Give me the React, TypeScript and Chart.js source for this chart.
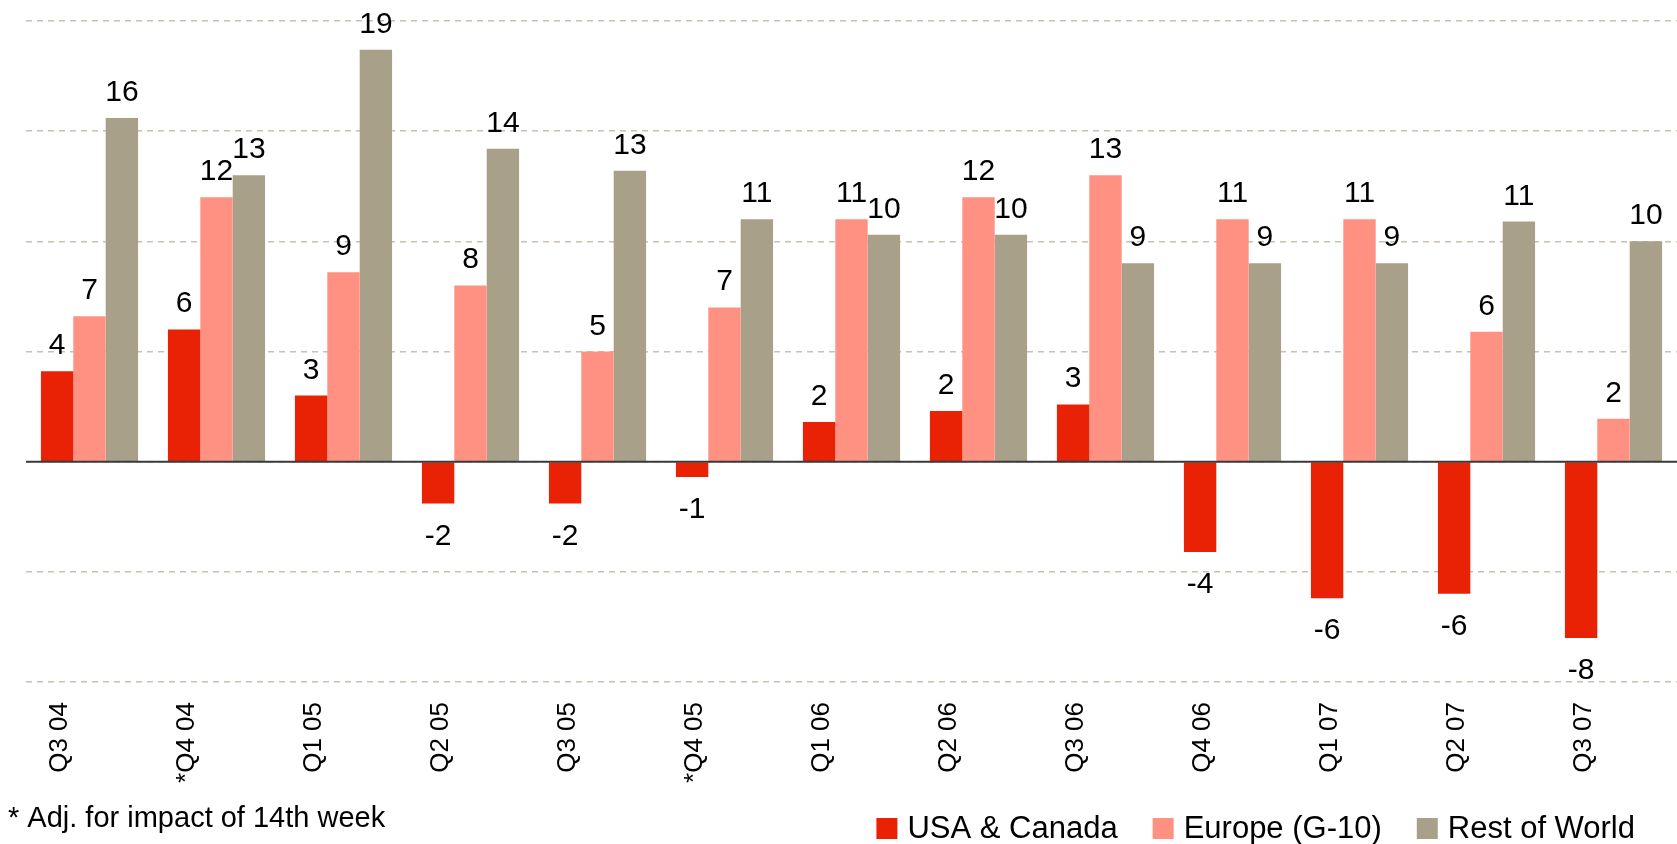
import React, { useEffect, useRef } from "react";
import { Chart, registerables } from "chart.js";

Chart.register(...registerables);

const categories = ["Q3 04", "*Q4 04", "Q1 05", "Q2 05", "Q3 05", "*Q4 05", "Q1 06", "Q2 06", "Q3 06", "Q4 06", "Q1 07", "Q2 07", "Q3 07"];
const usaCanada = [4.1, 6.0, 3.0, -1.9, -1.9, -0.7, 1.8, 2.3, 2.6, -4.1, -6.2, -6.0, -8.0];
const europeG10 = [6.6, 12.0, 8.6, 8.0, 5.0, 7.0, 11.0, 12.0, 13.0, 11.0, 11.0, 5.9, 1.95];
const restOfWorld = [15.6, 13.0, 18.7, 14.2, 13.2, 11.0, 10.3, 10.3, 9.0, 9.0, 9.0, 10.9, 10.0];
const seriesNames = ["USA & Canada", "Europe (G-10)", "Rest of World"];
const seriesColors = ["#EA2205", "#FF9182", "#A9A08A"];
const yMin = -10;
const yMax = 20;
const yStep = 5;
const footnote = "* Adj. for impact of 14th week";

const FONT = "'Liberation Sans', Arial, Helvetica, sans-serif";

const valueLabelPlugin = {
  id: "valueLabels",
  afterDatasetsDraw(chart: any) {
    const ctx = chart.ctx;
    const yScale = chart.scales.y;
    const y0 = yScale.getPixelForValue(0);
    // zero line
    ctx.save();
    ctx.strokeStyle = "#3a3a3a";
    ctx.lineWidth = 2;
    ctx.beginPath();
    ctx.moveTo(chart.chartArea.left, y0);
    ctx.lineTo(chart.chartArea.right, y0);
    ctx.stroke();
    ctx.restore();

    ctx.save();
    ctx.font = `30px ${FONT}`;
    ctx.fillStyle = "#000";
    ctx.textAlign = "center";
    ctx.textBaseline = "alphabetic";
    chart.data.datasets.forEach((ds: any, di: number) => {
      const meta = chart.getDatasetMeta(di);
      meta.data.forEach((bar: any, i: number) => {
        const v = ds.data[i];
        const label = String(Math.round(v));
        if (v >= 0) {
          ctx.fillText(label, bar.x, bar.y - 17);
        } else {
          ctx.fillText(label, bar.x, bar.y + 41);
        }
      });
    });
    ctx.restore();
  },
};

const legendFootnotePlugin = {
  id: "legendFootnote",
  afterDraw(chart: any) {
    const ctx = chart.ctx;
    ctx.save();
    ctx.fillStyle = "#000";
    ctx.textBaseline = "alphabetic";
    ctx.textAlign = "left";
    ctx.font = `29px ${FONT}`;
    ctx.fillText(footnote, 8, 827);

    ctx.font = `31px ${FONT}`;
    const box = 21;
    const gapBoxText = 10;
    const gapItems = 35;
    const widths = seriesNames.map((n) => ctx.measureText(n).width);
    const total = widths.reduce((a, w) => a + box + gapBoxText + w, 0) + gapItems * (seriesNames.length - 1);
    let x = 1635 - total;
    seriesNames.forEach((n, i) => {
      ctx.fillStyle = seriesColors[i];
      ctx.fillRect(x, 818, box, box);
      ctx.fillStyle = "#000";
      ctx.fillText(n, x + box + gapBoxText, 838);
      x += box + gapBoxText + widths[i] + gapItems;
    });
    ctx.restore();
  },
};

export default function App() {
  const canvasRef = useRef<HTMLCanvasElement | null>(null);

  useEffect(() => {
    if (!canvasRef.current) return;
    const chart = new Chart(canvasRef.current, {
      type: "bar",
      data: {
        labels: categories,
        datasets: [
          { label: seriesNames[0], data: usaCanada, backgroundColor: seriesColors[0] },
          { label: seriesNames[1], data: europeG10, backgroundColor: seriesColors[1] },
          { label: seriesNames[2], data: restOfWorld, backgroundColor: seriesColors[2] },
        ],
      },
      options: {
        responsive: false,
        animation: false,
        devicePixelRatio: 1,
        layout: { padding: { left: 26, right: 0, top: 21, bottom: 0 } },
        datasets: {
          bar: { categoryPercentage: 0.765, barPercentage: 1.0 },
        },
        plugins: {
          legend: { display: false },
          tooltip: { enabled: false },
          title: { display: false },
        },
        scales: {
          x: {
            grid: { display: false, drawTicks: false },
            border: { display: false },
            ticks: {
              autoSkip: false,
              minRotation: 90,
              maxRotation: 90,
              padding: 20,
              labelOffset: -30,
              color: "#000",
              font: { size: 26, family: FONT },
            },
            afterFit: (scale: any) => {
              scale.height = 162;
            },
          },
          y: {
            min: yMin,
            max: yMax,
            ticks: { display: false, stepSize: yStep },
            grid: { color: "#C8C0B0", lineWidth: 1.5, drawTicks: false },
            border: { display: false, dash: [6, 5] },
          },
        },
      },
      plugins: [valueLabelPlugin, legendFootnotePlugin],
    });
    return () => chart.destroy();
  }, []);

  return (
    <div style={{ position: "fixed", left: 0, top: 0, width: 1677, height: 844, background: "#fff" }}>
      <canvas ref={canvasRef} width={1677} height={844} style={{ display: "block" }} />
    </div>
  );
}
